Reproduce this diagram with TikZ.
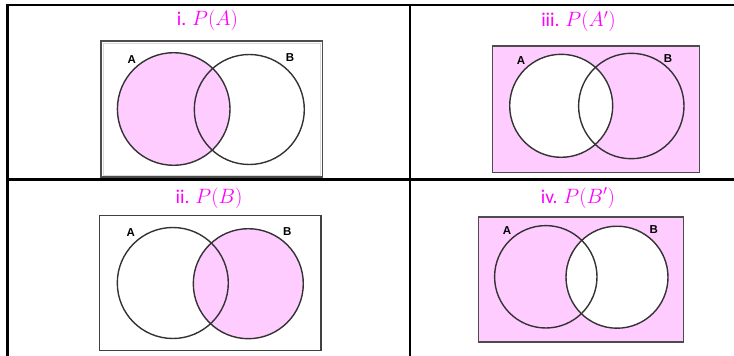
\documentclass[tikz,border=0pt]{standalone}
\usepackage{fontspec}
\setmainfont{Carlito}
\newfontfamily\labelfont{Liberation Sans}
\usetikzlibrary{positioning}
\definecolor{pinkfill}{RGB}{255,204,255}
\definecolor{titlepink}{RGB}{255,0,255}

\begin{document}
\begin{tikzpicture}[
    x=1pt, y=-1pt,
    grid/.style={line width=2.7pt, line cap=rect},
    universe/.style={draw=black!70, line width=1.4pt},
    setcircle/.style={circle, draw=black!80, line width=1.4pt, inner sep=0pt},
    shaded/.style={fill=pinkfill},
    blank/.style={fill=white},
    title/.style={font=\fontsize{19.5}{22}\selectfont, text=titlepink},
    setlabel/.style={font=\labelfont\bfseries\fontsize{11.5}{12}\selectfont},
]
\useasboundingbox (0,0) rectangle (734,356);

% Table lines
\draw[grid] (734,5) -- (7.5,5) -- (7.5,356);
\draw[grid] (7.5,179.5) -- (734,179.5);
\draw[grid] (410,5) -- (410,356);

% Titles
\node[title] (ti) at (207.5,20.5) {i. $P(A)$};
\node[title] (tiii) at (578.5,21.5) {iii. $P(A')$};
\node[title] (tii) at (209,198.5) {ii. $P(B)$};
\node[title] (tiv) at (578,198) {iv. $P(B')$};

% i. P(A)
\draw[universe] (101,41) rectangle (322.5,177);
\draw[gray!30, line width=0.6pt] (102.8,42.8) rectangle (320.7,175.2);
\node[setcircle, shaded, minimum size=112.6] (iA) at (173.7,109) {};
\node[setcircle, minimum size=110] (iB) at (249.3,109.5) {};
\node[setlabel] (iAl) at (131.7,59.3) {A};
\node[setlabel] (iBl) at (290,57.3) {B};

% iii. P(A')
\draw[universe, shaded] (492.7,46) rectangle (699.3,172.3);
\node[setcircle, blank, minimum size=103] (iiiA) at (561.2,105.8) {};
\node[setcircle, minimum size=105.4] (iiiB) at (631.3,106) {};
\node[setlabel] (iiiAl) at (521,61) {A};
\node[setlabel] (iiiBl) at (668,59) {B};

% ii. P(B)
\draw[universe, black!75, line width=1.2pt] (99.7,215.7) rectangle (321,350.7);
\node[setcircle, shaded, minimum size=110] (iiB) at (248.3,283.7) {};
\node[setcircle, minimum size=111] (iiA) at (172.8,283) {};
\node[setlabel] (iiAl) at (130.7,233) {A};
\node[setlabel] (iiBl) at (287.3,231.3) {B};

% iv. P(B')
\draw[universe, shaded] (478.7,217) rectangle (683.7,342);
\node[setcircle, blank, minimum size=102] (ivB) at (617,277.2) {};
\node[setcircle, minimum size=102.4] (ivA) at (545.8,276.8) {};
\node[setlabel] (ivAl) at (507,230.3) {A};
\node[setlabel] (ivBl) at (653.7,229.7) {B};

\end{tikzpicture}
\end{document}
